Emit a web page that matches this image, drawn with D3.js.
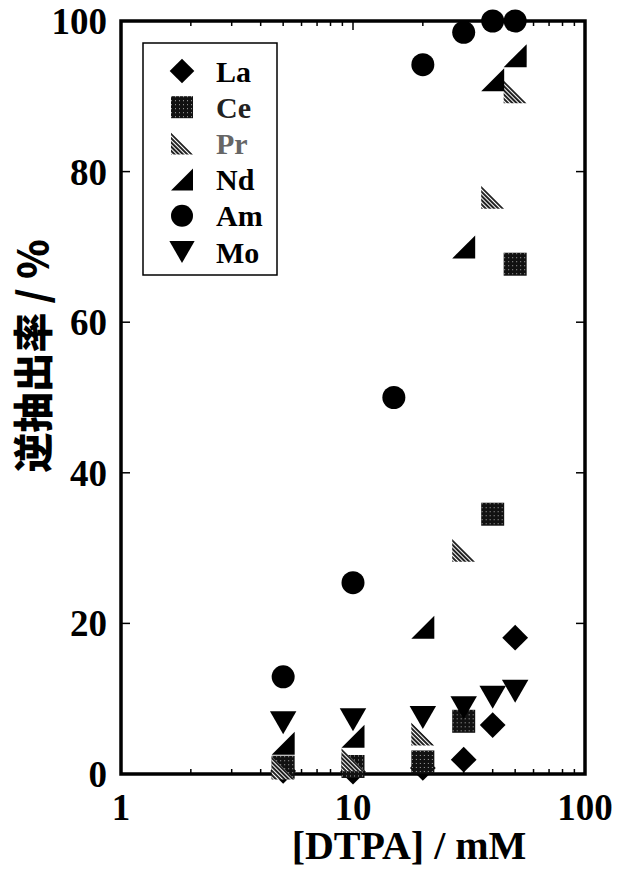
<!DOCTYPE html>
<html>
<head>
<meta charset="utf-8">
<script src="https://cdn.jsdelivr.net/npm/d3@7"></script>
<style>
  body { margin: 0; background: #fff; }
  svg text { font-family: "Liberation Serif", "Times New Roman", serif; font-weight: bold; }
</style>
</head>
<body>
<svg id="chart" width="618" height="872"></svg>
<script>
// DTPA concentration (mM) and back-extraction yield (%)
var dtpa   = [5, 10, 20, 30, 40, 50];
var amDtpa = [5, 10, 15, 20, 30, 40, 50];

var La = [0.4, 0.3, 0.8, 1.9, 6.5, 18.1];
var Ce = [0.9, 1.0, 1.6, 7.0, 34.5, 67.7];
var Pr = [0.8, 1.9, 5.3, 29.7, 76.6, 90.6];
var Nd = [4.1, 5.0, 19.5, 70.0, 92.2, 95.4];
var Am = [12.9, 25.4, 50.0, 94.2, 98.5, 100, 100];
var Mo = [6.8, 7.2, 7.5, 8.8, 10.2, 11.0];

var xTicks = [1, 10, 100];
var yTicks = [0, 20, 40, 60, 80, 100];

var series = [
	{name: "La", x: dtpa,   y: La, shape: "diamond"},
	{name: "Ce", x: dtpa,   y: Ce, shape: "square"},
	{name: "Pr", x: dtpa,   y: Pr, shape: "triLeft"},
	{name: "Nd", x: dtpa,   y: Nd, shape: "triRight"},
	{name: "Am", x: amDtpa, y: Am, shape: "circle"},
	{name: "Mo", x: dtpa,   y: Mo, shape: "triDown"}
];

var svg = d3.select("#chart");
var pLeft = 121, pRight = 585, pTop = 21, pBottom = 774;

var x = d3.scaleLog().domain([1, 100]).range([pLeft, pRight]);
var y = d3.scaleLinear().domain([0, 100]).range([pBottom, pTop]);

// fill patterns for the stippled / hatched markers
var defs = svg.append("defs");
var pc = defs.append("pattern").attr("id", "ceFill")
	.attr("width", 4).attr("height", 4).attr("patternUnits", "userSpaceOnUse");
pc.append("rect").attr("width", 4).attr("height", 4).attr("fill", "#111");
pc.append("rect").attr("x", 1).attr("y", 1).attr("width", 1).attr("height", 1).attr("fill", "#aaa");

var pp = defs.append("pattern").attr("id", "prFill")
	.attr("width", 3).attr("height", 3).attr("patternUnits", "userSpaceOnUse")
	.attr("patternTransform", "rotate(45)");
pp.append("rect").attr("width", 3).attr("height", 3).attr("fill", "#fff");
pp.append("rect").attr("width", 3).attr("height", 2).attr("fill", "#222");

var fills = {La: "#000", Ce: "url(#ceFill)", Pr: "url(#prFill)", Nd: "#000", Am: "#000", Mo: "#000"};

function shapePath(shape, r) {
	if (shape == "diamond") return "M0," + (-r*1.12) + "L" + (r*1.12) + ",0L0," + (r*1.12) + "L" + (-r*1.12) + ",0Z";
	if (shape == "square") return "M" + (-r) + "," + (-r) + "h" + (2*r) + "v" + (2*r) + "h" + (-2*r) + "Z";
	if (shape == "triRight") return "M" + r + "," + (-r) + "L" + r + "," + r + "L" + (-r) + "," + r + "Z";
	if (shape == "triLeft") return "M" + (-r) + "," + (-r) + "L" + (-r) + "," + r + "L" + r + "," + r + "Z";
	if (shape == "triDown") return "M" + (-r*1.15) + "," + (-r) + "L" + (r*1.15) + "," + (-r) + "L0," + r + "Z";
	// circle
	return "M" + r + ",0A" + r + "," + r + " 0 1,1 " + (-r) + ",0A" + r + "," + r + " 0 1,1 " + r + ",0Z";
}

// ticks, inward on all four sides
var minor = [];
[1, 10].forEach(function(dec){ for (var k = 2; k <= 9; k++) minor.push(dec * k); });

var tk = svg.append("g").attr("stroke", "#000").attr("stroke-width", 1.5);
minor.forEach(function(v){
	tk.append("line").attr("x1", x(v)).attr("x2", x(v)).attr("y1", pBottom).attr("y2", pBottom - 5);
	tk.append("line").attr("x1", x(v)).attr("x2", x(v)).attr("y1", pTop).attr("y2", pTop + 5);
});
xTicks.forEach(function(v){
	tk.append("line").attr("x1", x(v)).attr("x2", x(v)).attr("y1", pBottom).attr("y2", pBottom - 9);
	tk.append("line").attr("x1", x(v)).attr("x2", x(v)).attr("y1", pTop).attr("y2", pTop + 9);
});
yTicks.forEach(function(v){
	tk.append("line").attr("x1", pLeft).attr("x2", pLeft + 9).attr("y1", y(v)).attr("y2", y(v));
	tk.append("line").attr("x1", pRight).attr("x2", pRight - 9).attr("y1", y(v)).attr("y2", y(v));
});

svg.append("rect")
	.attr("x", pLeft).attr("y", pTop)
	.attr("width", pRight - pLeft).attr("height", pBottom - pTop)
	.attr("fill", "none").attr("stroke", "#000").attr("stroke-width", 3.5);

// tick labels
svg.selectAll(".ylab").data(yTicks).enter().append("text")
	.attr("x", 107).attr("y", function(d){ return y(d); })
	.attr("dy", "0.35em")
	.attr("text-anchor", "end")
	.style("font-size", "37px")
	.text(function(d){ return d; });

svg.selectAll(".xlab").data(xTicks).enter().append("text")
	.attr("x", function(d){ return x(d); }).attr("y", 820)
	.attr("text-anchor", "middle")
	.style("font-size", "37px")
	.text(function(d){ return d; });

// axis titles
svg.append("text")
	.attr("x", 409).attr("y", 859)
	.attr("text-anchor", "middle")
	.style("font-size", "40px")
	.text("[DTPA] / mM");

svg.append("text")
	.attr("transform", "translate(48,356) rotate(-90)")
	.attr("text-anchor", "middle")
	.style("font-family", "'Noto Sans CJK JP', sans-serif")
	.style("font-size", "40px")
	.style("font-weight", "900")
	.text("逆抽出率 / %");

// data markers
series.forEach(function(s){
	svg.append("g").selectAll("path")
		.data(s.y.map(function(v, i){ return [s.x[i], v]; }))
		.enter().append("path")
		.attr("transform", function(d){ return "translate(" + x(d[0]) + "," + y(d[1]) + ")"; })
		.attr("d", shapePath(s.shape, 11.5))
		.attr("fill", fills[s.name]);
});

// legend
var lg = svg.append("g");
lg.append("rect")
	.attr("x", 143).attr("y", 43).attr("width", 134).attr("height", 232)
	.attr("fill", "#fff").attr("stroke", "#000").attr("stroke-width", 1.5);

var row = d3.scaleLinear().domain([0, series.length - 1]).range([71, 252]);
series.forEach(function(s, i){
	lg.append("path")
		.attr("transform", "translate(182," + row(i) + ")")
		.attr("d", shapePath(s.shape, 11))
		.attr("fill", fills[s.name]);
	lg.append("text")
		.attr("x", 216).attr("y", row(i))
		.attr("dy", "0.35em")
		.style("font-size", "30px")
		.attr("fill", s.name == "Pr" ? "#666" : (s.name == "Ce" ? "#222" : "#000"))
		.text(s.name);
});
</script>
</body>
</html>
